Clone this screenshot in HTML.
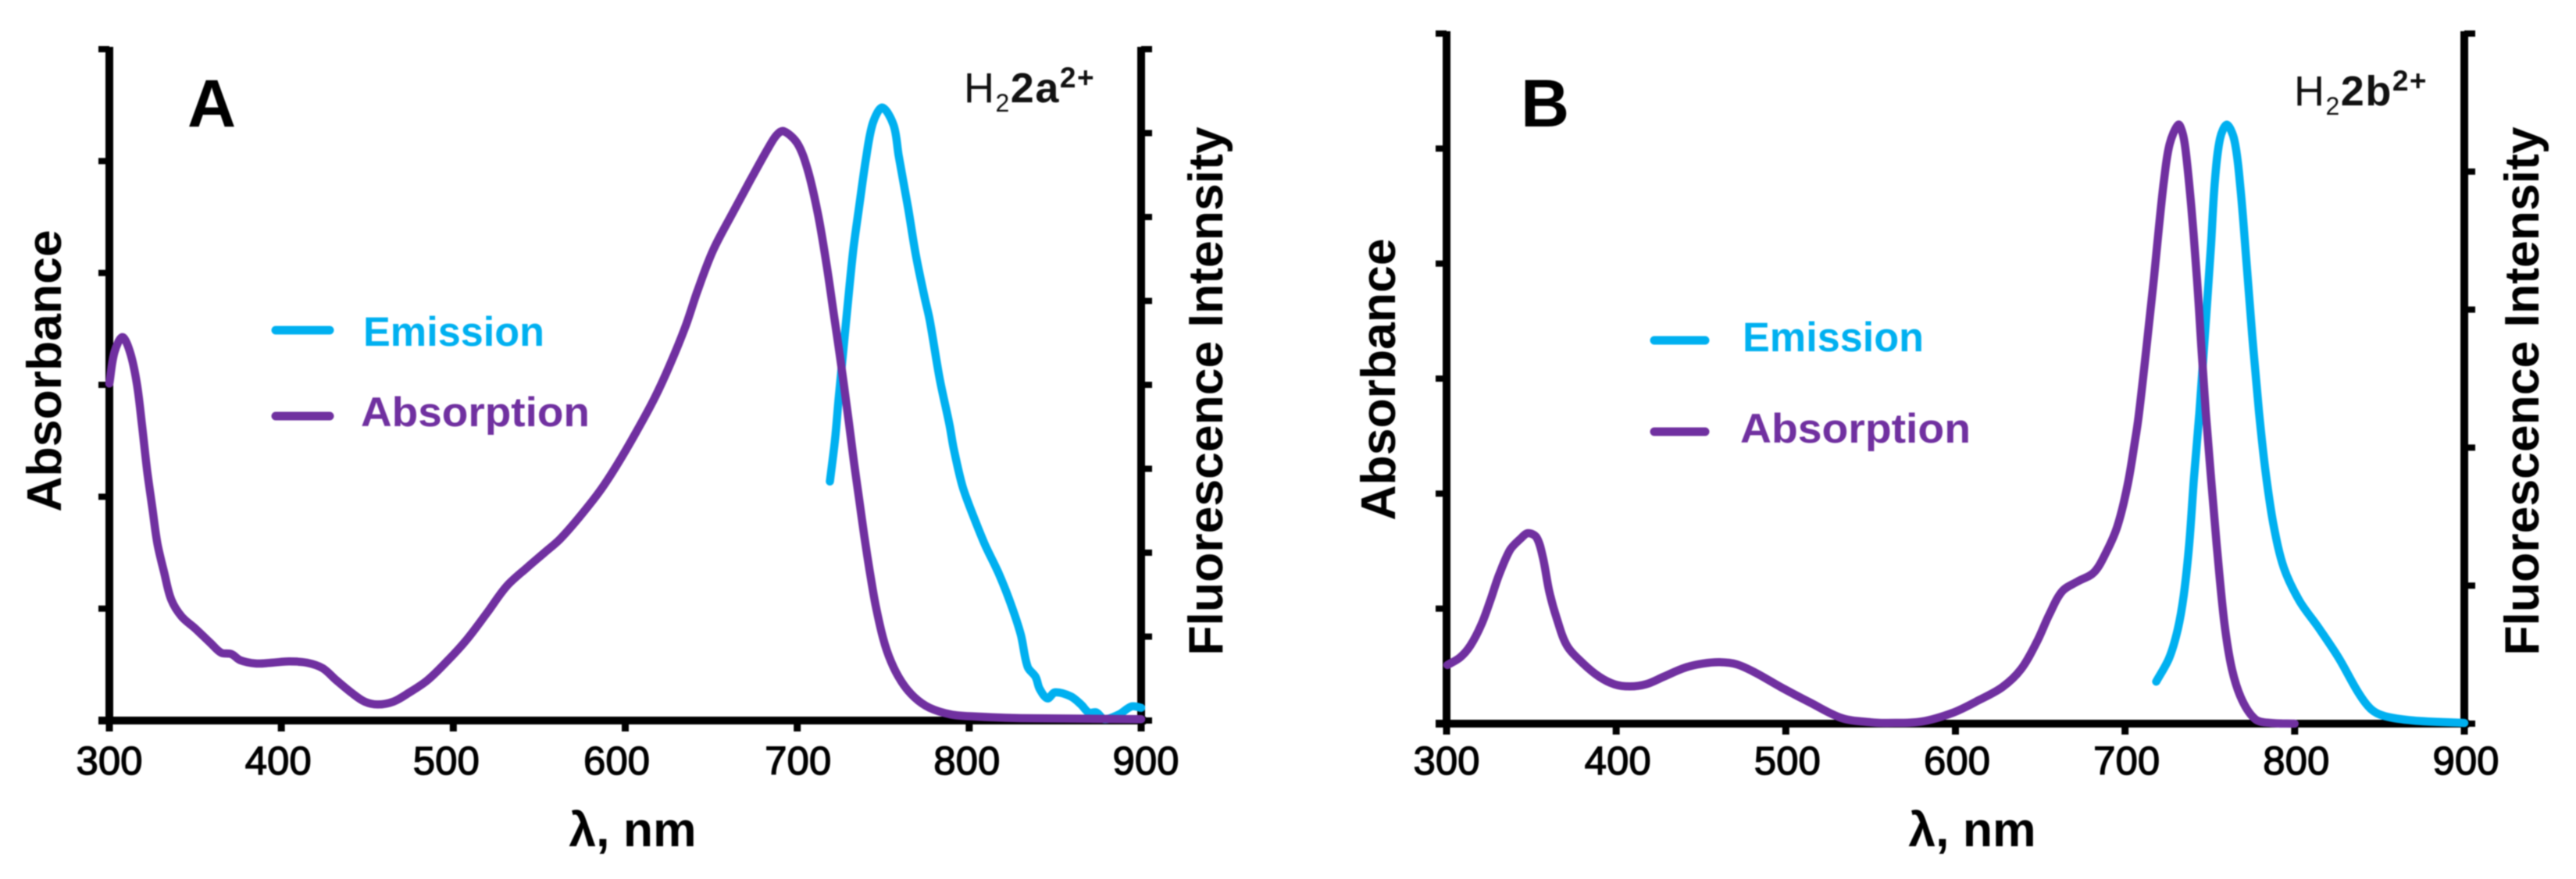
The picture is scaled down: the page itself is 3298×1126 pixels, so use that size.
<!DOCTYPE html>
<html lang="en">
<head>
<meta charset="utf-8">
<title>Absorption and emission spectra</title>
<style>
html,body{margin:0;padding:0;background:#fff;}
svg{display:block;filter:blur(0.7px);}
text{font-family:"Liberation Sans",Arial,sans-serif;}
.tick-label{font-size:51px;fill:#000;stroke:#000;stroke-width:1.3px;text-anchor:middle;}
.axis-title{font-size:62.5px;font-weight:bold;fill:#000;text-anchor:middle;}
.panel-letter{font-size:86px;font-weight:bold;fill:#000;text-anchor:middle;}
.compound{font-size:54px;fill:#111;letter-spacing:1.5px;}
.legend-text{font-size:53px;font-weight:bold;}
</style>
</head>
<body>
<svg id="figure" xmlns="http://www.w3.org/2000/svg" width="3298" height="1126" viewBox="0 0 3298 1126">
  <rect width="3298" height="1126" fill="#fff"/>
  <g id="panel-a">
    <text class="panel-letter" x="271" y="162">A</text>
    <text class="compound" x="1234" y="131">H<tspan font-size="32" dy="12">2</tspan><tspan font-weight="bold" dy="-12">2a</tspan><tspan font-weight="bold" font-size="37" dy="-19">2+</tspan></text>
    <text class="axis-title" transform="translate(78,475) rotate(-90)">Absorbance</text>
    <text class="axis-title" transform="translate(1565,501) rotate(-90)">Fluorescence Intensity</text>
    <text class="axis-title" x="810" y="1084">λ, nm</text>
    <line x1="353" x2="422" y1="423" y2="423" stroke="#00B0F0" stroke-width="11" stroke-linecap="round"/>
    <text class="legend-text" x="465" y="443" fill="#00B0F0" textLength="232" lengthAdjust="spacingAndGlyphs">Emission</text>
    <line x1="353" x2="422" y1="533" y2="533" stroke="#7030A0" stroke-width="11" stroke-linecap="round"/>
    <text class="legend-text" x="462" y="546" fill="#7030A0" textLength="293" lengthAdjust="spacingAndGlyphs">Absorption</text>
  </g>
  <g id="panel-b">
    <text class="panel-letter" x="1978" y="162">B</text>
    <text class="compound" x="2937" y="135">H<tspan font-size="32" dy="12">2</tspan><tspan font-weight="bold" dy="-12">2b</tspan><tspan font-weight="bold" font-size="37" dy="-19">2+</tspan></text>
    <text class="axis-title" transform="translate(1786,486) rotate(-90)">Absorbance</text>
    <text class="axis-title" transform="translate(3250,501) rotate(-90)">Fluorescence Intensity</text>
    <text class="axis-title" x="2525" y="1084">λ, nm</text>
    <line x1="2118" x2="2183" y1="436" y2="436" stroke="#00B0F0" stroke-width="11" stroke-linecap="round"/>
    <text class="legend-text" x="2231" y="450" fill="#00B0F0" textLength="232" lengthAdjust="spacingAndGlyphs">Emission</text>
    <line x1="2118" x2="2183" y1="553" y2="553" stroke="#7030A0" stroke-width="11" stroke-linecap="round"/>
    <text class="legend-text" x="2228" y="567" fill="#7030A0" textLength="295" lengthAdjust="spacingAndGlyphs">Absorption</text>
  </g>
</svg>
<script>
// Shared tick values. Signals are expressed in percent of axis full scale.
const xTickValues = [300, 400, 500, 600, 700, 800, 900];
const xTickLabels = ["300", "400", "500", "600", "700", "800", "900"];
const leftTicksSix = [0, 16.667, 33.333, 50, 66.667, 83.333, 100];
const rightTicksA = [0, 12.5, 25, 37.5, 50, 62.5, 75, 87.5, 100];
const rightTicksB = [0, 20, 40, 60, 80, 100];

// Panel A, absorption
const aAbsWavelengths = [300,303,307.6,312,316,319,322,325,328,332,336,342,350,359,365,371,376,385,394,404.5,415,424,432,441,448.6,456,465,474,485,497,508,519.5,531,543,553,562,572,585,595,606,617,626,635,642,651,662,673,683,688,692,700,706,712,717,721,725,730,733,736,739,742,745.5,750,754.5,760.6,768,777,789.5,803,830,900];
const aAbsValues = [50.2,54.9,57.1,54.9,50.2,44,37.2,31.7,26.3,21.9,18,15.5,13.7,11.5,10.1,9.9,9,8.5,8.6,8.8,8.6,7.8,6,4.1,2.8,2.4,2.8,4.1,6,9,12.1,16,20,22.8,25,27,29.9,34.1,38,42.8,48,53,58.7,64,70,75.4,80.6,85.2,87.2,87.8,86,82.1,75.5,68,61,54,44.5,38.5,33,27.5,22.5,17.3,12.2,8.8,5.8,3.5,1.9,0.9,0.6,0.35,0.2];

// Panel A, emission
const aEmWavelengths = [719,722,724,728.8,732.6,736,740,744,749.5,756,759,764.5,769,774,777,783,788.6,791,796,801,809,817,824,830,834,838.6,841,845.5,850,859,865,869.5,874,878.6,887,894.5,900];
const aEmValues = [35.6,41.9,47.7,60.5,70.1,76.5,83.7,89,91.3,88.7,84.1,76.3,69.3,63.1,59.7,50.7,44,40.5,35,31.4,26.3,22,17.5,12.8,8,6.5,4.7,3.3,4.2,3.6,2.4,1.2,1.2,0.2,0.9,2.1,1.9];

// Panel B, absorption
const bAbsWavelengths = [300.5,308,314,320.6,326,331,337.5,343.6,348,353,356.7,360.5,365,371,380.6,390,399,408,417.5,428,440.5,451,461,471,482,497,514,533,550,560,580,598.6,613.8,627.7,638.7,647.9,655.3,663,672,681.6,689,695.6,701.6,706,708,712.4,717,720,723,726.3,731.4,734,736,739,742.4,745,747.6,750.7,754,758.5,763,769,777,786,800];
const bAbsValues = [8.5,9.6,11.3,14.4,18,21.6,25.2,26.8,27.6,27,24.2,19.2,15.2,11.3,8.7,6.8,5.7,5.4,5.7,6.8,8.1,8.7,8.9,8.6,7.4,5.3,3.1,0.8,0.2,0.1,0.3,1.6,3.4,5.3,7.9,11.8,15.8,19.2,20.6,21.9,24.9,28.7,34.7,41.2,44.5,54,64.5,72,78.8,84,86.8,85.5,82.5,75,64.5,54.5,45.1,35.5,26,14.7,7.9,3.4,0.6,0.1,0];

// Panel B, emission
const bEmWavelengths = [718.4,726,731,734.6,737.8,740.6,743.8,747.6,750.7,753,756,760,764.5,768,771.4,775,779,783,787.6,793.6,802.8,813.8,826,837.5,845,853,870,900];
const bEmValues = [6.1,9.5,13.6,18.6,26,35.5,45,58.1,69.5,78.8,84.8,86.8,84.5,77.7,67.5,56.2,45.1,36.2,28.7,22.6,17.8,14,9.5,4.5,2.1,1.1,0.45,0.1];

const SVG_NS = "http://www.w3.org/2000/svg";

function makeXScale(left, right) {
  return function (nm) { return left + (nm - 300) * (right - left) / 600; };
}
function makeYScale(bottom, top) {
  return function (v) { return bottom - v * (bottom - top) / 100; };
}
function smoothPath(xs, ys, sx, sy) {
  const px = xs.map(sx);
  const py = ys.map(sy);
  const n = px.length;
  // chord-length parameter keeps unevenly spaced readings free of kinks
  const t = [0];
  for (let i = 1; i < n; i++) {
    t.push(t[i - 1] + Math.hypot(px[i] - px[i - 1], py[i] - py[i - 1]));
  }
  const tx = [];
  const ty = [];
  for (let i = 0; i < n; i++) {
    const a = Math.max(i - 1, 0);
    const b = Math.min(i + 1, n - 1);
    tx.push((px[b] - px[a]) / (t[b] - t[a]));
    ty.push((py[b] - py[a]) / (t[b] - t[a]));
  }
  let d = "M" + px[0].toFixed(1) + " " + py[0].toFixed(1);
  for (let i = 0; i < n - 1; i++) {
    const h = (t[i + 1] - t[i]) / 3;
    d += "C" + (px[i] + tx[i] * h).toFixed(1) + " " + (py[i] + ty[i] * h).toFixed(1) + " " + (px[i + 1] - tx[i + 1] * h).toFixed(1) + " " + (py[i + 1] - ty[i + 1] * h).toFixed(1) + " " + px[i + 1].toFixed(1) + " " + py[i + 1].toFixed(1);
  }
  return d;
}
function addRect(parent, x, y, w, h) {
  const r = document.createElementNS(SVG_NS, "rect");
  r.setAttribute("x", x);
  r.setAttribute("y", y);
  r.setAttribute("width", w);
  r.setAttribute("height", h);
  r.setAttribute("fill", "#000");
  parent.appendChild(r);
  return r;
}

function drawPanel(panelId, prefix, cfg) {
  const panel = document.getElementById(panelId);
  const sx = makeXScale(cfg.left, cfg.right);
  const sy = makeYScale(cfg.bottom, cfg.top);

  const leftAxis = addRect(panel, cfg.left - 5, cfg.top - 3, 10, cfg.bottom - cfg.top + 8);
  
  

  const rightAxis = addRect(panel, cfg.right - 5, cfg.top - 3, 10, cfg.bottom - cfg.top + 8);
  
  

  const bottomAxis = addRect(panel, cfg.left - 14, cfg.bottom - 5, cfg.right - cfg.left + 20, 10);
  
  

  xTickValues.forEach(function (v, i) {
    const tick = addRect(panel, sx(v) - 4.5, cfg.bottom, 9, 14);
    
    

    const label = document.createElementNS(SVG_NS, "text");
    label.setAttribute("class", "tick-label");
    label.setAttribute("x", sx(v) + cfg.labelNudge[i]);
    label.setAttribute("y", 992);
    label.textContent = xTickLabels[i];
    
    
    panel.appendChild(label);
  });

  leftTicksSix.forEach(function (v, i) {
    const tick = addRect(panel, cfg.left - 14, sy(v) - 4, 14, 8);
    
    
  });

  cfg.rightTicks.forEach(function (v, i) {
    const tick = addRect(panel, cfg.right, sy(v) - 4, 14, 8);
    
    
  });

  const em = document.createElementNS(SVG_NS, "path");
  em.setAttribute("d", smoothPath(cfg.emX, cfg.emY, sx, sy));
  em.setAttribute("fill", "none");
  em.setAttribute("stroke", "#00B0F0");
  em.setAttribute("stroke-width", "10.5");
  em.setAttribute("stroke-linejoin", "round");
  em.setAttribute("stroke-linecap", "round");
  
  
  panel.appendChild(em);

  const ab = document.createElementNS(SVG_NS, "path");
  ab.setAttribute("d", smoothPath(cfg.absX, cfg.absY, sx, sy));
  ab.setAttribute("fill", "none");
  ab.setAttribute("stroke", "#7030A0");
  ab.setAttribute("stroke-width", "10.5");
  ab.setAttribute("stroke-linejoin", "round");
  ab.setAttribute("stroke-linecap", "round");
  
  
  panel.appendChild(ab);
}

drawPanel("panel-a", "panel-a", {
  left: 140, right: 1461, bottom: 923, top: 63,
  labelNudge: [0, -4, -9, -11, 1, -3, 6],
  rightTicks: rightTicksA,
  absX: aAbsWavelengths, absY: aAbsValues,
  emX: aEmWavelengths, emY: aEmValues
});
drawPanel("panel-b", "panel-b", {
  left: 1852, right: 3155, bottom: 927, top: 43,
  labelNudge: [0, 2, 2, 2, 2, 2, 2],
  rightTicks: rightTicksB,
  absX: bAbsWavelengths, absY: bAbsValues,
  emX: bEmWavelengths, emY: bEmValues
});
</script>
</body>
</html>
